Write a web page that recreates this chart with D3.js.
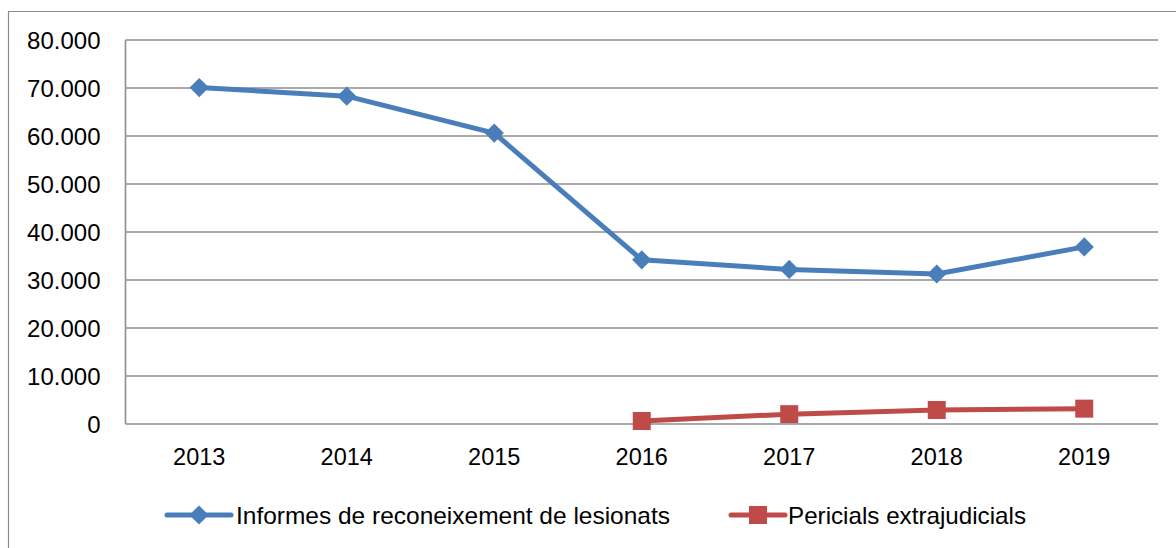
<!DOCTYPE html>
<html>
<head>
<meta charset="utf-8">
<script src="https://cdn.jsdelivr.net/npm/d3@7"></script>
<style>
  body { margin: 0; background: #fff; }
  text { font-family: "Liberation Sans", Arial, sans-serif; fill: #000; }
</style>
</head>
<body>
<script>
// data
var years = ["2013", "2014", "2015", "2016", "2017", "2018", "2019"];
var informes = [70100, 68300, 60600, 34200, 32200, 31250, 36900];
var pericials = [null, null, null, 620, 2050, 2920, 3200];
var yTicks = [0, 10000, 20000, 30000, 40000, 50000, 60000, 70000, 80000];
var seriesNames = ["Informes de reconeixement de lesionats", "Pericials extrajudicials"];

var svgWidth = 1176;
var svgHeight = 548;
var margin = { top: 40, right: 18, bottom: 124, left: 125.5 };
var width = svgWidth - margin.left - margin.right;
var height = svgHeight - margin.top - margin.bottom;

var blue = "#4a7ebb";
var red = "#be4b48";
var grid = "#8c8c8c";

var svg = d3.select("body")
  .append("svg")
  .attr("width", svgWidth)
  .attr("height", svgHeight);

// outer chart border (runs off the right and bottom edges)
svg.append("path")
  .attr("d", "M8.5," + (svgHeight + 2) + "V11.5H" + (svgWidth + 2))
  .attr("fill", "none")
  .attr("stroke", grid)
  .attr("stroke-width", 1.2);

var chartGroup = svg.append("g")
  .attr("transform", `translate(${margin.left}, ${margin.top})`);

var x = d3.scaleBand().domain(years).range([0, width]);
var y = d3.scaleLinear().domain([0, 80000]).range([height, 0]);

// gridlines
chartGroup.selectAll(".grid")
  .data(yTicks)
  .enter().append("line")
  .attr("x1", 0)
  .attr("x2", width)
  .attr("y1", d => y(d))
  .attr("y2", d => y(d))
  .attr("stroke", grid)
  .attr("stroke-width", 1.6);

// left axis line
chartGroup.append("line")
  .attr("x1", 0).attr("x2", 0)
  .attr("y1", 0).attr("y2", height)
  .attr("stroke", grid)
  .attr("stroke-width", 1.6);

// y labels
var fmt = d => d === 0 ? "0" : d3.format(",")(d).replace(/,/g, ".");
var leftAxis = d3.axisLeft(y).tickValues(yTicks).tickFormat(fmt).tickSize(0).tickPadding(25);
var gy = chartGroup.append("g").call(leftAxis);
gy.select(".domain").remove();
gy.selectAll("text")
  .attr("font-size", 24)
  .attr("font-family", "Liberation Sans, Arial, sans-serif")
  .attr("dy", "0.36em");

// x labels
var bottomAxis = d3.axisBottom(x).tickSize(0).tickPadding(24);
var gx = chartGroup.append("g")
  .attr("transform", `translate(0, ${height})`)
  .call(bottomAxis);
gx.select(".domain").remove();
gx.selectAll("text")
  .attr("font-size", 23.5)
  .attr("font-family", "Liberation Sans, Arial, sans-serif");

var cx = d => x(d) + x.bandwidth() / 2;

// lines
var line = d3.line()
  .defined(d => d.v != null)
  .x(d => cx(d.year))
  .y(d => y(d.v));

var blueData = years.map((yr, i) => ({ year: yr, v: informes[i] }));
var redData = years.map((yr, i) => ({ year: yr, v: pericials[i] }));

chartGroup.append("path")
  .datum(blueData)
  .attr("d", line)
  .attr("fill", "none")
  .attr("stroke", blue)
  .attr("stroke-width", 5)
  .attr("stroke-linejoin", "round");

var diamond = d3.symbol().type(d3.symbolSquare).size(185);
chartGroup.selectAll(".dia")
  .data(blueData)
  .enter().append("path")
  .attr("d", diamond)
  .attr("transform", d => `translate(${cx(d.year)}, ${y(d.v)}) rotate(45)`)
  .attr("fill", blue);

chartGroup.append("path")
  .datum(redData)
  .attr("d", line)
  .attr("fill", "none")
  .attr("stroke", red)
  .attr("stroke-width", 5)
  .attr("stroke-linejoin", "round");

chartGroup.selectAll(".sq")
  .data(redData.filter(d => d.v != null))
  .enter().append("rect")
  .attr("x", d => cx(d.year) - 9)
  .attr("y", d => y(d.v) - 9)
  .attr("width", 18)
  .attr("height", 18)
  .attr("fill", red);

// legend
var legend = svg.append("g").attr("transform", "translate(0, 515)");

legend.append("line")
  .attr("x1", 167).attr("x2", 231).attr("y1", 0).attr("y2", 0)
  .attr("stroke", blue).attr("stroke-width", 5).attr("stroke-linecap", "round");
legend.append("path")
  .attr("d", diamond)
  .attr("transform", "translate(199, 0) rotate(45)")
  .attr("fill", blue);
legend.append("text")
  .attr("x", 236).attr("y", 0).attr("dy", "0.36em")
  .attr("font-size", 24)
  .attr("textLength", 434)
  .attr("lengthAdjust", "spacingAndGlyphs")
  .text(seriesNames[0]);

legend.append("line")
  .attr("x1", 731).attr("x2", 785).attr("y1", 0).attr("y2", 0)
  .attr("stroke", red).attr("stroke-width", 5).attr("stroke-linecap", "round");
legend.append("rect")
  .attr("x", 749).attr("y", -9).attr("width", 18).attr("height", 18)
  .attr("fill", red);
legend.append("text")
  .attr("x", 788).attr("y", 0).attr("dy", "0.36em")
  .attr("font-size", 24)
  .attr("textLength", 238)
  .attr("lengthAdjust", "spacingAndGlyphs")
  .text(seriesNames[1]);
</script>
</body>
</html>
